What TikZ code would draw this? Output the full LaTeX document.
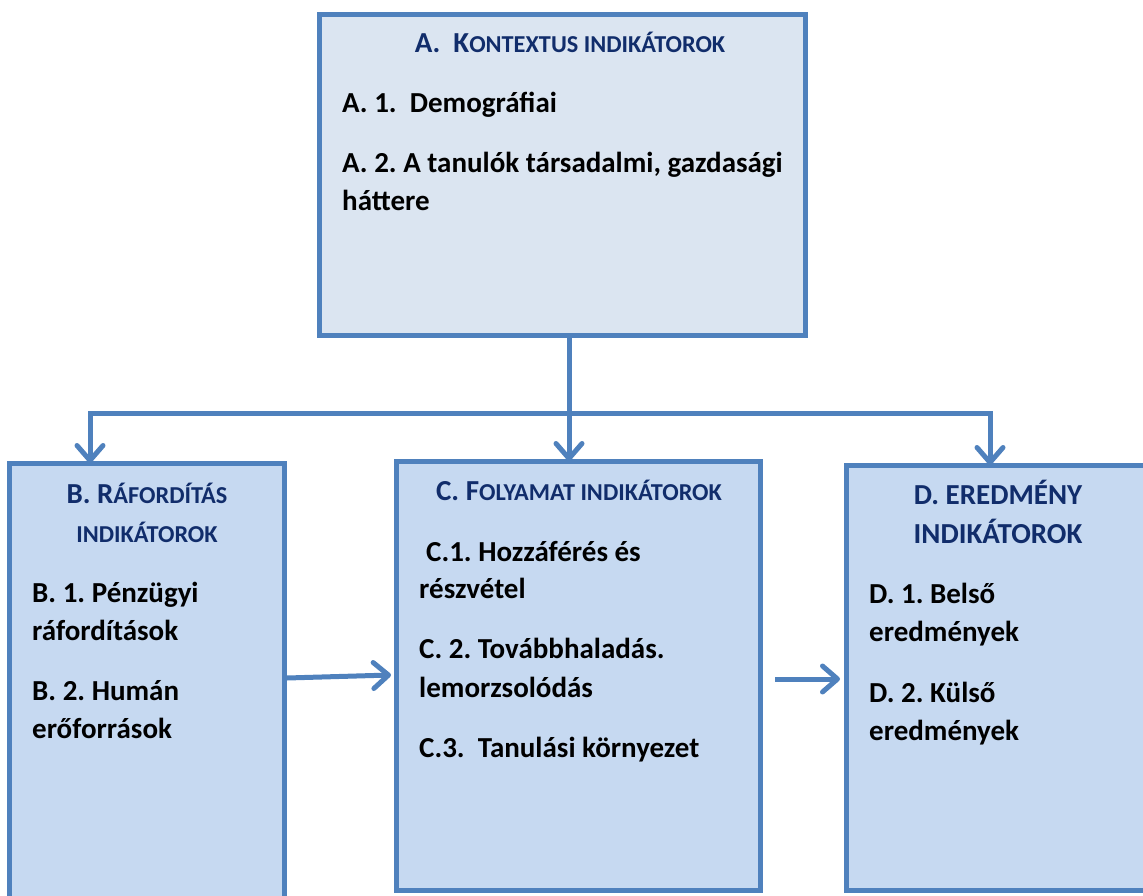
\documentclass[tikz,border=0pt]{standalone}
\usepackage{fontspec}
\setmainfont{Carlito}
\frenchspacing
\usetikzlibrary{arrows.meta}
\definecolor{bord}{HTML}{4F81BD}
\definecolor{fillA}{HTML}{DBE5F1}
\definecolor{fillB}{HTML}{C6D9F1}
\definecolor{head}{HTML}{112D6B}
\newcommand\fsc[1]{{\fontsize{24.3}{24.3}\selectfont #1}}
\tikzset{
  box/.style={draw=bord, line width=5pt, rectangle, inner sep=0pt},
  conn/.style={draw=bord, line width=5pt},
  arr/.style={conn, -{Straight Barb[length=15pt,width=26pt,round]}},
  txt/.style={anchor=base west, inner sep=0pt, font=\fontsize{29}{29}\selectfont\bfseries},
  hd/.style={anchor=base, inner sep=0pt, text=head, font=\fontsize{29}{29}\selectfont\bfseries}
}
\begin{document}
\begin{tikzpicture}[x=1pt,y=-1pt]
\useasboundingbox (0,0) rectangle (1143,896);
% boxes
\node[box, fill=fillA, minimum width=486pt, minimum height=321pt] (A) at (562.5,175) {};
\node[box, fill=fillB, minimum width=275pt, minimum height=460pt] (B) at (147,693.5) {};
\node[box, fill=fillB, minimum width=364pt, minimum height=429pt] (C) at (578.5,676) {};
\node[box, fill=fillB, minimum width=314pt, minimum height=425pt] (D) at (1003.5,678) {};
% connectors
\coordinate (j) at (569,413);
\coordinate (jl) at (90,413);
\coordinate (jr) at (990,413);
\draw[conn] (A.south -| j) -- (j);
\draw[conn, line cap=rect] (jl) -- (jr);
\draw[arr] (jl) -- ([yshift=-2pt]jl |- B.north);
\draw[arr] (j) -- ([yshift=-2pt]j |- C.north);
\draw[arr] (jr) -- ([yshift=-2pt]jr |- D.north);
\draw[arr] (B.east |- 0,678) -- ([xshift=-3pt]C.west |- 0,675);
\draw[arr, shorten <=12pt, shorten >=4pt] (C.east |- 0,679) -- (D.west |- 0,679);
% texts A
\node[hd] (ah) at (570,53) {A.\ \ K\fsc{ONTEXTUS INDIKÁTOROK}};
\node[txt] (a1) at (342,113) {A. 1.\ \ Demográfiai};
\node[txt] (a2) at (342,173) {A. 2. A tanulók társadalmi, gazdasági};
\node[txt] (a2b) at (342,211) {háttere};
% texts B
\node[hd] (bh1) at (147,503) {B. R\fsc{ÁFORDÍTÁS}};
\node[hd] (bh2) at (147,542) {\fsc{INDIKÁTOROK}};
\node[txt] (b1) at (32,602) {B. 1. Pénzügyi};
\node[txt] (b1b) at (32,640) {ráfordítások};
\node[txt] (b2) at (32,700) {B. 2. Humán};
\node[txt] (b2b) at (32,738) {erőforrások};
% texts C
\node[hd] (ch) at (579,500) {C. F\fsc{OLYAMAT INDIKÁTOROK}};
\node[txt] (c1) at (426,561) {C.1. Hozzáférés és};
\node[txt] (c1b) at (419,598) {részvétel};
\node[txt] (c2) at (419,658) {C. 2. Továbbhaladás.};
\node[txt] (c2b) at (419,697) {lemorzsolódás};
\node[txt] (c3) at (419,757) {C.3.\ \ Tanulási környezet};
% texts D
\node[hd] (dh1) at (998,504) {D. EREDMÉNY};
\node[hd] (dh2) at (998,543) {INDIKÁTOROK};
\node[txt] (d1) at (869,603) {D. 1. Belső};
\node[txt] (d1b) at (869,641) {eredmények};
\node[txt] (d2) at (869,702) {D. 2. Külső};
\node[txt] (d2b) at (869,740) {eredmények};
\end{tikzpicture}
\end{document}
